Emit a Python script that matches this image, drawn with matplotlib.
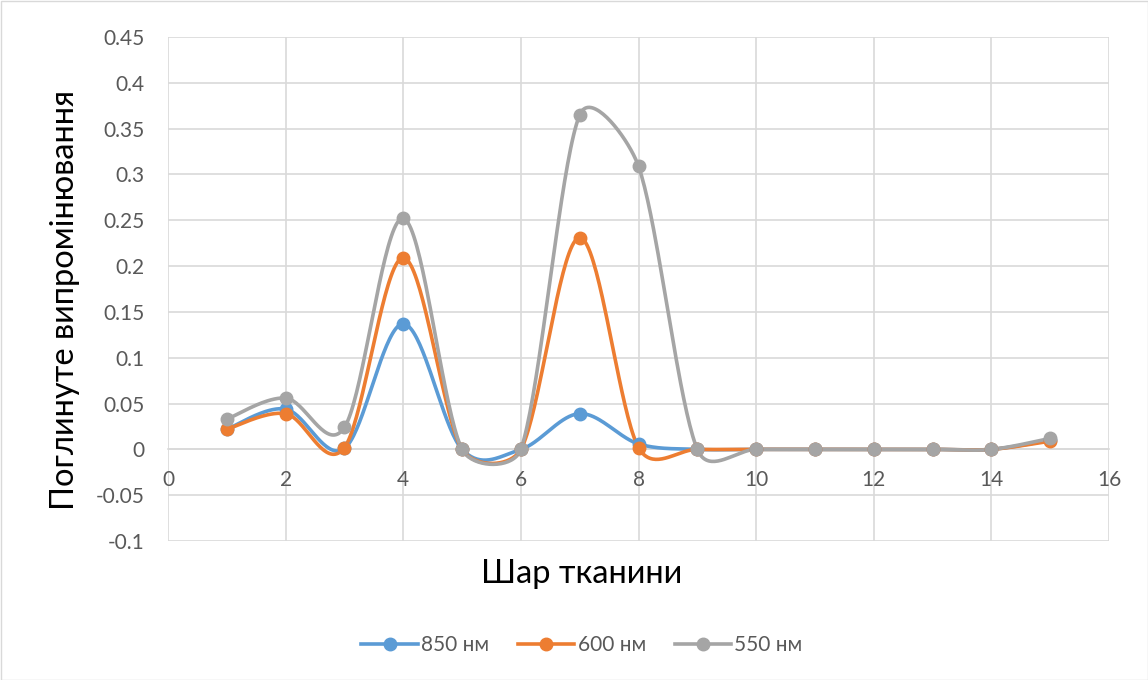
import numpy as np
import matplotlib
matplotlib.use("Agg")
import matplotlib.pyplot as plt
from matplotlib.lines import Line2D

plt.rcParams['font.family'] = ['Lato', 'DejaVu Sans']

layers = [1, 2, 3, 4, 5, 6, 7, 8, 9, 10, 11, 12, 13, 14, 15]
s850 = [0.022, 0.044, 0.001, 0.137, 0.0, 0.0, 0.039, 0.006, 0.0, 0.0, 0.0, 0.0, 0.0, 0.0, 0.010]
s600 = [0.022, 0.039, 0.002, 0.209, 0.0, 0.0, 0.231, 0.002, 0.0, 0.0, 0.0, 0.0, 0.0, 0.0, 0.009]
s550 = [0.033, 0.056, 0.024, 0.252, 0.0, 0.0, 0.365, 0.309, 0.0, 0.0, 0.0, 0.0, 0.0, 0.0, 0.012]
names = ['850 нм', '600 нм', '550 нм']
colors = ['#5B9BD5', '#ED7D31', '#A5A5A5']

xticks = np.arange(0, 17, 2)
yticks = np.arange(-0.1, 0.451, 0.05)
ytick_labels = ['-0.1', '-0.05', '0', '0.05', '0.1', '0.15', '0.2', '0.25',
                '0.3', '0.35', '0.4', '0.45']


def smooth(ax, xs, ys, n=40):
    """Bezier smoothing in display space with limited control-point reach."""
    pts = ax.transData.transform(np.column_stack([xs, ys]).astype(float))
    out = [pts[0]]
    t = np.linspace(0, 1, n)[1:, None]
    for i in range(len(pts) - 1):
        p0 = pts[i - 1] if i > 0 else pts[i]
        p1, p2 = pts[i], pts[i + 1]
        p3 = pts[i + 2] if i + 2 < len(pts) else pts[i + 1]
        d02 = np.linalg.norm(p2 - p0)
        d12 = np.linalg.norm(p2 - p1)
        d13 = np.linalg.norm(p3 - p1)
        f1 = f2 = 1 / 6
        big1 = d02 / 6 >= d12 / 2
        big2 = d13 / 6 >= d12 / 2
        if big1 and big2:
            f1 = 0.37 * d12 / d02
            f2 = 0.37 * d12 / d13
        elif big1:
            f1 = 0.5 * d12 / d02
        elif big2:
            f2 = 0.5 * d12 / d13
        c1 = p1 + (p2 - p0) * f1
        c2 = p2 - (p3 - p1) * f2
        seg = ((1 - t) ** 3) * p1 + 3 * ((1 - t) ** 2) * t * c1 \
            + 3 * (1 - t) * t ** 2 * c2 + t ** 3 * p2
        out.extend(seg)
    out = ax.transData.inverted().transform(np.array(out))
    return out[:, 0], out[:, 1]


fig = plt.figure(figsize=(11.48, 6.8), dpi=100)
ax = fig.add_axes([168 / 1148, 1 - 541 / 680, (1109 - 168) / 1148, (541 - 37) / 680])
ax.set_xlim(0, 16)
ax.set_ylim(-0.1, 0.45)

for ys, c in zip([s850, s600, s550], colors):
    sx, sy = smooth(ax, layers, ys)
    ax.plot(sx, sy, color=c, lw=2.6, solid_capstyle='round', zorder=3)
    ax.plot(layers, ys, 'o', color=c, ms=9, zorder=4)

ax.set_xticks(xticks)
ax.set_yticks(yticks)
ax.set_yticklabels(ytick_labels)
ax.grid(True, color='#D9D9D9', lw=1.2, zorder=0)
ax.set_axisbelow(True)
for side in ['top', 'right', 'left']:
    ax.spines[side].set_visible(False)
ax.spines['bottom'].set_position(('data', 0))
ax.spines['bottom'].set_color('#D9D9D9')
ax.spines['bottom'].set_linewidth(1.2)
ax.tick_params(axis='both', length=0, labelsize=15, colors='#595959')
ax.tick_params(axis='x', pad=15)
ax.tick_params(axis='y', pad=17)

fig.text(65 / 1148, 1 - 300 / 680, 'Поглинуте випромінювання', rotation=90,
         ha='center', va='center', fontsize=23.5, color='#000000')
fig.text(582 / 1148, 1 - 574 / 680, 'Шар тканини', ha='center', va='center',
         fontsize=23.5, color='#000000')

handles = [Line2D([0], [0], color=c, lw=2.6, marker='o', ms=9) for c in colors]
fig.legend(handles, names, loc='center', bbox_to_anchor=(582 / 1148, 1 - 645 / 680),
           ncol=3, frameon=False, fontsize=15, labelcolor='#595959',
           handlelength=2.7, columnspacing=1.4, handletextpad=0.15)

border = plt.Rectangle((0.5 / 1148, 0.5 / 680), 1 - 1 / 1148, 1 - 1 / 680,
                       transform=fig.transFigure, fill=False, ec='#D9D9D9', lw=1)
fig.patches.append(border)

fig.savefig('out.png', dpi=100, facecolor='white')
